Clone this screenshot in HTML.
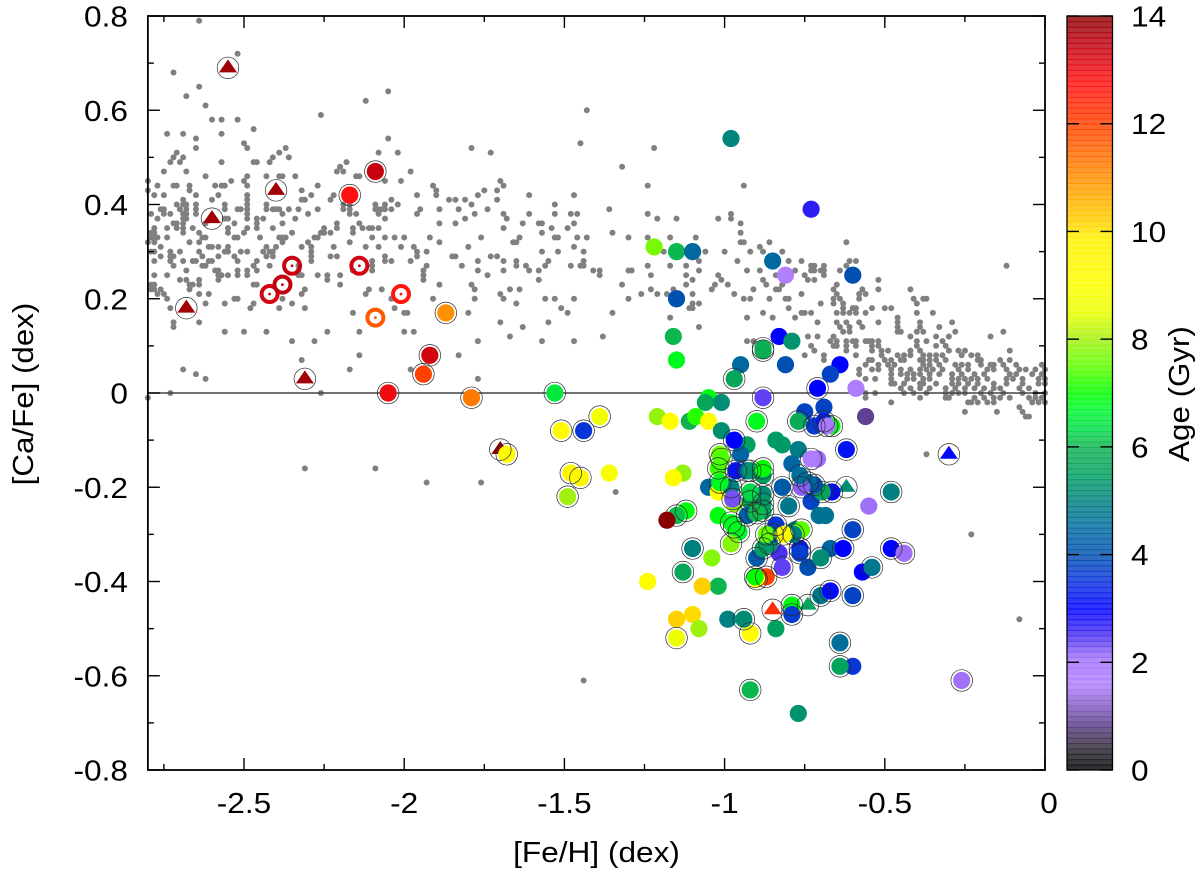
<!DOCTYPE html>
<html lang="en">
<head>
<meta charset="utf-8">
<title>[Ca/Fe] vs [Fe/H] coloured by age</title>
<style>
html,body{margin:0;padding:0;background:#fff;width:1200px;height:870px;overflow:hidden}
svg{display:block;font-family:"Liberation Sans",Arial,sans-serif}
text{fill:#000;font-size:29px}
</style>
</head>
<body>
<svg id="chart" xmlns="http://www.w3.org/2000/svg" width="1200" height="870" viewBox="0 0 1200 870">
  <rect width="1200" height="870" fill="#fff"/>
  <g id="field"></g>
  <g id="zero"></g>
  <g id="stars"></g>
  <g id="axes"></g>
  <g id="cbar"></g>
  <text text-anchor="middle" transform="translate(596.5,862) scale(1.09,1)">[Fe/H] (dex)</text>
  <text text-anchor="middle" transform="translate(33,394) rotate(-90) scale(1.08,1)">[Ca/Fe] (dex)</text>
  <text text-anchor="middle" transform="translate(1189,394) rotate(-90) scale(1.08,1)">Age (Gyr)</text>
</svg>
<script>
// ---------- Axis tick values ----------
const xMajorTicks = [-2.5, -2, -1.5, -1, -0.5, 0];
const xMinorTicks = [-2.75, -2.25, -1.75, -1.25, -0.75, -0.25];
const yMajorTicks = [0.8, 0.6, 0.4, 0.2, 0, -0.2, -0.4, -0.6, -0.8];
const yMinorTicks = [0.7, 0.5, 0.3, 0.1, -0.1, -0.3, -0.5, -0.7];
const xTickLabels = ["-2.5", "-2", "-1.5", "-1", "-0.5", "0"];
const yTickLabels = ["0.8", "0.6", "0.4", "0.2", "0", "-0.2", "-0.4", "-0.6", "-0.8"];
const ageTicks = [0, 2, 4, 6, 8, 10, 12, 14];
const ageTickLabels = ["0", "2", "4", "6", "8", "10", "12", "14"];

// ---------- Colour scale ----------
const ageKnots = [0, 0.4, 0.9, 1.6, 2.1, 2.5, 3, 3.5, 4, 4.5, 5, 5.5, 6, 6.3, 6.7, 7, 7.5, 8, 8.5, 9, 9.9, 10.2, 11, 12, 12.8, 13.5, 14];
const ageKnotColors = ["#000000", "#2a2530", "#604090", "#b080ff", "#a070f8", "#4a30f0", "#0000ff", "#0a30e0", "#0050b0", "#006aa0", "#008080", "#00a060", "#10b050", "#00d848", "#00f830", "#00ff00", "#60ff00", "#a0f010", "#e8ff00", "#ffff00", "#fff000", "#ffd000", "#ff9000", "#ff4000", "#ff1010", "#c00010", "#8b0000"];

// ---------- Field stars: [Ca/Fe] levels and the [Fe/H] values at each level ----------
const fieldLeftCaFe = [0.79,0.72,0.68,0.65,0.64,0.63,0.62,0.61,0.60,0.59,0.58,0.56,0.55,0.54,0.53,0.52,0.51,0.50,0.49,0.48,0.47,0.46,0.45,0.44,0.43,0.42,0.41,0.40,0.39,0.38,0.37,0.36,0.35,0.34,0.33,0.32,0.31,0.30,0.29,0.28,0.27,0.26,0.25,0.24,0.23,0.22,0.21,0.20,0.19,0.18,0.17,0.15,0.14,0.13,0.12,0.11,0.08,0.07,0.05,0.04,0.03,0,-0.01,-0.16,-0.19,-0.21,-0.61];
const fieldLeftFeH = [
[-2.64],[-2.52],[-2.72],[-2.64],[-2.05],[-2.68],[-2.12],[-2.62],[-1.43],[-2.26],
[-2.60,-2.57,-2.52],[-2.47],[-2.74,-2.69,-2.57],[-2.65,-2.05],[-2.50,-1.45],
[-2.65,-2.49,-2.37,-1.79],
[-2.71,-2.39,-2.08,-2.02,-1.73],
[-2.72,-2.69,-2.41,-2.36],
[-2.73,-2.70,-2.57,-2.47,-2.46,-2.42,-2.18],
[-2.20],
[-2.75,-2.68,-2.21,-2.19,-1.98],
[-2.62,-2.49,-2.43,-2.39,-2.38,-2.34,-2.15,-2.14],
[-2.80,-2.54,-2.50,-2.06,-2.01,-1.70],
[-2.77,-2.72,-2.71,-2.67,-2.59,-2.57,-2.56,-2.49,-2.27,-1.91,-1.69],
[-2.80,-2.67,-2.32,-1.90,-1.75,-1.71],
[-2.78,-2.75,-2.65,-2.58,-2.49,-2.29,-2.22,-1.96,-1.90,-1.77,-1.61,-1.47],
[-2.69,-2.60,-2.49,-2.32,-2.31,-2.23,-2.04,-1.86,-1.84,-1.81,-1.71],
[-2.71,-2.69,-2.68,-2.65,-2.56,-2.49,-2.43,-2.19,-2.17,-2.09,-2.06,-2.02,-1.79,-1.53],
[-2.76,-2.75,-2.70,-2.68,-2.65,-2.56,-2.52,-2.51,-2.49,-2.43,-2.41,-2.40,-2.39,-2.36,-2.33,-2.27,-2.19,-2.17,-2.09,-2.08,-2.07,-2.06,-2.04,-1.95,-1.89,-1.83,-1.74],
[-2.79,-2.75,-2.73,-2.69,-2.68,-2.65,-2.49,-2.38,-2.30,-2.17,-2.15,-2.08,-1.96,-1.78,-1.69,-1.61,-1.53,-1.48,-1.46],
[-2.77,-2.69,-2.68,-2.56,-2.55,-2.49,-2.46,-2.44,-2.34,-2.06,-1.81,-1.68],
[-2.72,-2.71,-2.69,-2.62,-2.53,-2.46,-2.38,-2.21,-2.14,-1.89,-1.84,-1.63,-1.58,-1.57,-1.47],
[-2.78,-2.74,-2.71,-2.69,-2.66,-2.55,-2.49,-2.46,-2.41,-2.25,-2.21,-2.16,-2.13,-2.11,-2.10,-2.08,-1.69,-1.54,-1.49],
[-2.79,-2.78,-2.69,-2.64,-2.55,-2.50,-2.35,-2.26,-2.25,-2.23,-2.16,-1.57],
[-2.79,-2.78,-2.77,-2.74,-2.63,-2.62,-2.53,-2.52,-2.45,-2.39,-2.38,-2.37,-2.28,-2.27,-2.10,-2.06,-2.03,-2.00,-1.92,-1.76,-1.64,-1.53,-1.52,-1.46,-1.43],
[-2.80,-2.78,-2.67,-2.64,-2.38,-2.30,-2.17,-1.89,-1.66,-1.65],
[-2.76,-2.61,-2.60,-2.58,-2.55,-2.43,-2.40,-2.32,-2.29,-2.22,-2.12,-2.08,-2.01,-1.97,-1.80,-1.47],
[-2.79,-2.78,-2.73,-2.70,-2.64,-2.56,-2.55,-2.51,-2.49,-2.44,-2.42,-2.41,-2.29,-1.96,-1.93,-1.57,-1.52,-1.44],
[-2.76,-2.73,-2.72,-2.63,-2.58,-2.53,-2.43,-2.41,-2.29,-2.23,-2.21,-2.06,-1.96,-1.85,-1.84,-1.73,-1.71],
[-2.78,-2.73,-2.69,-2.66,-2.65,-2.61,-2.60,-2.52,-2.46,-2.29,-2.10,-2.06,-2.04,-1.98,-1.77,-1.69,-1.65,-1.55,-1.44],
[-2.72,-2.63,-2.62,-2.47,-2.42,-2.33,-2.10,-1.93,-1.82,-1.65,-1.62,-1.56,-1.48,-1.45,-1.44],
[-2.68,-2.59,-2.58,-2.52,-2.49,-2.46,-2.33,-2.16,-2.10,-1.94,-1.77,-1.69,-1.61,-1.58],
[-2.78,-2.74,-2.58,-2.57,-2.55,-2.52,-2.49,-2.33,-2.32,-2.27,-2.24,-2.20,-1.94,-1.74],
[-2.70,-2.68,-2.58,-2.64,-2.24,-1.94,-1.58],
[-2.79,-2.78,-2.67,-2.66,-2.64,-2.47,-2.46,-2.20,-1.89,-1.79],
[-2.79,-2.78,-2.76,-2.67,-2.31,-2.11,-2.07,-1.78,-1.67,-1.64],
[-2.77,-2.75,-2.64,-2.61,-2.32,-2.12,-1.70],
[-2.74,-2.53,-2.52,-2.38,-2.04,-1.91,-1.78,-1.69,-1.56,-1.53,-1.47],
[-2.62,-2.56,-2.47,-2.35,-1.65],
[-2.73,-2.48,-2.39,-2.31,-2.03,-1.51],
[-2.16,-2.00,-1.99,-1.80,-1.49],
[-2.72,-2.64,-1.70,-1.55],
[-2.72,-1.63],
[-2.56,-2.50,-2.43,-2.24,-2.14,-2.00,-1.97],
[-1.67],
[-2.35,-2.28,-1.77,-1.57,-1.47],
[-2.14,-1.83],
[-2.32],
[-2.69,-2.17,-1.98],
[-2.65],
[-2.62,-1.77],
[-2.73,-2.26],
[-2.80],
[-2.31,-2.09],
[-1.93,-1.76],
[-1.34],
[-1.44]
];
const fieldRightCaFe = [0.52,0.48,0.44,0.39,0.38,0.37,0.36,0.34,0.33,0.32,0.31,0.30,0.28,0.27,0.26,0.25,0.24,0.23,0.22,0.21,0.20,0.19,0.18,0.17,0.16,0.15,0.14,0.13,0.12,0.11,0.10,0.09,0.08,0.07,0.06,0.05,0.04,0.03,0.02,0.01,0,-0.01,-0.02,-0.03,-0.04,-0.05,-0.13,-0.30,-0.48];
const fieldRightFeH = [
[-1.22],[-1.32],[-1.24,-0.94],[-1.36],[-1.24,-0.98],[-1.21,-1.15,-1.02,-0.98],[-0.95],[-1.35,-0.95],
[-1.30,-1.24,-1.17,-1.09],
[-0.95,-0.94,-0.86,-0.62],
[-0.89],
[-1.19,-1.06,-1.00,-0.92,-0.88,-0.82],
[-1.08,-0.96,-0.80,-0.76,-0.61,-0.59],
[-1.24,-1.17,-1.12,-0.73,-0.72,-0.69,-0.62,-0.12],
[-1.41,-1.39,-1.30,-1.29,-1.08,-0.93,-0.89,-0.78,-0.73,-0.72,-0.70,-0.69,-0.64],
[-1.39,-1.23,-1.12,-1.02,-0.84,-0.75,-0.69],
[-1.10,-1.01,-0.88,-0.74,-0.72,-0.52],
[-1.32,-1.12,-1.03,-0.99,-0.87,-0.82,-0.65],
[-1.23,-1.16,-1.04,-0.91,-0.84,-0.83,-0.66,-0.57,-0.52,-0.42],
[-1.26,-1.21,-1.18,-1.10,-0.97,-0.76,-0.65,-0.58,-0.56],
[-1.30,-0.94,-0.92,-0.86,-0.81,-0.80,-0.66,-0.64,-0.58,-0.41,-0.38,-0.37],
[-1.10,-1.08,-0.70,-0.66,-0.63,-0.40],
[-1.11,-1.10,-0.80,-0.63,-0.60,-0.59,-0.54,-0.50,-0.48],
[-1.35,-0.88,-0.76,-0.75,-0.73,-0.65,-0.63,-0.61,-0.59,-0.56,-0.40,-0.35],
[-1.17,-0.93,-0.85,-0.78,-0.46],
[-0.71,-0.65,-0.62,-0.58,-0.52,-0.46,-0.39,-0.29],
[-1.08,-0.64,-0.61,-0.57,-0.46,-0.39,-0.33],
[-0.63,-0.61,-0.46,-0.45,-0.40,-0.38,-0.28,-0.13],
[-1.38,-0.74,-0.71,-0.66,-0.42,-0.34,-0.30,-0.17],
[-0.93,-0.91,-0.67,-0.65,-0.62,-0.60,-0.59,-0.56,-0.55,-0.54,-0.52,-0.40,-0.37,-0.32],
[-0.73,-0.66,-0.65,-0.62,-0.59,-0.54,-0.52,-0.40,-0.34,-0.31],
[-0.72,-0.62,-0.54,-0.51,-0.49,-0.42,-0.39,-0.30,-0.27,-0.25,-0.11],
[-0.75,-0.69,-0.59,-0.51,-0.46,-0.44,-0.42,-0.38,-0.36,-0.34,-0.32,-0.26,-0.23,-0.21],
[-0.69,-0.55,-0.54,-0.50,-0.48,-0.45,-0.44,-0.39,-0.38,-0.36,-0.34,-0.31,-0.21,-0.20,-0.14,-0.11],
[-0.56,-0.52,-0.49,-0.47,-0.38,-0.36,-0.33,-0.28,-0.26,-0.24,-0.20,-0.17,-0.16,-0.13,-0.09,-0.01],
[-0.58,-0.54,-0.52,-0.48,-0.45,-0.42,-0.39,-0.37,-0.35,-0.32,-0.27,-0.24,-0.18,-0.16,-0.12,-0.08,-0.06,-0.03,0],
[-0.58,-0.48,-0.45,-0.43,-0.41,-0.39,-0.36,-0.33,-0.29,-0.26,-0.22,-0.19,-0.11,-0.09,-0.04,-0.01],
[-0.56,-0.53,-0.48,-0.43,-0.41,-0.38,-0.36,-0.29,-0.27,-0.25,-0.23,-0.21,-0.18,-0.12,-0.10,-0.07,-0.02,0],
[-0.48,-0.47,-0.44,-0.39,-0.38,-0.34,-0.29,-0.27,-0.24,-0.21,-0.16,-0.12,-0.07,-0.02,0],
[-0.45,-0.42,-0.39,-0.36,-0.31,-0.28,-0.25,-0.22,-0.19,-0.16,-0.14,-0.08,-0.05],
[-0.56,-0.53,-0.44,-0.41,-0.37,-0.31,-0.29,-0.27,-0.25,-0.20,-0.17,-0.13,-0.07,-0.03,0],
[-0.56,-0.39,-0.31,-0.30,-0.22,-0.19,-0.16,-0.14,-0.11,-0.05,-0.03,-0.01],
[-0.48,-0.24,-0.23,-0.21,-0.18,-0.16,-0.04,-0.02,0],
[-0.08],
[-0.25,-0.15,-0.07],
[-0.06,-0.05],
[-0.37],
[-0.23],
[-0.08]
];

// ---------- Plain filled discs ----------
const discFeH = [-1.36,-1.21,-1.17,-1.11,-1.09,-1.13,-1.16,-1.24,-1.15,-1.10,-1.08,-0.98,-0.73,-1.22,-1.15,-1.10,-0.85,-0.81,-0.60,-1.15,-1.16,-1.15,-0.83,-0.79,-0.95,-0.81,-0.64,-0.67,-0.59,-1.05,-1.06,-1.01,-0.56,-1.05,-1.01,-0.93,-0.75,-0.69,-0.84,-0.82,-0.77,-0.79,-0.71,-0.55,-0.73,-0.705,-0.685,-0.67,-0.57,-0.74,-0.83,-1.02,-1.04,-1.02,-1.07,-0.95,-0.99,-0.84,-0.60,-0.77,-1.05,-0.78,-1.02,-0.97];
const discCaFe = [-0.17,-0.05,-0.06,-0.06,-0.05,-0.17,-0.18,-0.40,-0.48,-0.47,-0.50,0.54,0.39,0.31,0.30,0.30,0.28,0.25,0.25,0.20,0.12,0.07,0.12,0.11,0.06,0.06,0.06,0.04,0.01,-0.01,-0.02,-0.02,-0.05,-0.06,-0.08,-0.11,-0.04,-0.03,-0.10,-0.11,-0.12,-0.15,-0.14,-0.24,-0.23,-0.26,-0.26,-0.33,-0.38,-0.37,-0.34,-0.26,-0.35,-0.41,-0.41,-0.13,-0.48,-0.50,-0.58,-0.68,-0.20,-0.29,-0.21,-0.235];
const discAge = [8.9,7.9,9.2,6,7.2,7.9,9.2,9.2,10.2,10.1,8,5.1,2.7,7.7,6.05,4.5,4.5,1.6,4,4,6.05,6.8,3,5.3,4.5,4,3,3.8,1.7,6.9,5.7,5.2,0.9,9.2,5.2,5.5,3.8,3.8,5.4,5.4,4.9,4.4,2.1,2.1,3.8,4.7,4.7,4.4,3,4,2.5,6.9,7.8,6.05,10.2,4.4,5,5.5,3.6,5.3,4.5,5.2,9,7.9];

// ---------- Discs with an outer thin ring ----------
const ringedFeH = [-2.09,-2.17,-1.92,-1.94,-2.05,-1.87,-1.79,-1.53,-1.39,-1.51,-1.44,-1.68,-1.48,-1.45,-1.49,-1.12,-1.15,-1.10,-1.13,-1.15,-0.88,-0.88,-0.97,-0.71,-0.88,-0.90,-0.97,-0.77,-0.72,-0.69,-0.665,-0.68,-0.62,-0.73,-0.48,-0.665,-0.695,-0.72,-0.74,-0.76,-0.765,-0.82,-0.80,-0.60,-0.63,-0.70,-0.48,-0.44,-0.54,-0.82,-0.765,-0.76,-0.90,-0.88,-0.84,-0.785,-0.765,-0.87,-0.90,-0.905,-0.92,-0.94,-0.79,-0.79,-0.70,-0.67,-0.60,-0.64,-0.64,-0.26,-0.92,-0.965,-0.93,-0.92,-0.88,-0.88,-0.92,-0.88,-0.88,-0.93,-0.90,-0.88,-0.98,-1.015,-1.02,-1.015,-0.98,-0.92,-0.975,-0.955,-0.97,-0.98,-1.01,-0.86,-0.85,-0.87,-0.815];
const ringedCaFe = [0.47,0.42,0.08,0.04,0,0.17,-0.01,0,-0.05,-0.08,-0.08,-0.13,-0.17,-0.18,-0.22,-0.25,-0.26,-0.33,-0.38,-0.52,0.09,0.095,0.03,0.01,-0.01,-0.06,-0.10,-0.06,-0.07,-0.06,-0.07,-0.07,-0.12,-0.14,-0.21,-0.21,-0.21,-0.195,-0.19,-0.20,-0.175,-0.20,-0.24,-0.29,-0.33,-0.35,-0.33,-0.34,-0.37,-0.37,-0.33,-0.29,-0.35,-0.33,-0.28,-0.30,-0.34,-0.39,-0.395,-0.39,-0.51,-0.48,-0.45,-0.47,-0.43,-0.42,-0.43,-0.53,-0.58,-0.61,-0.63,-0.165,-0.165,-0.165,-0.175,-0.215,-0.23,-0.235,-0.25,-0.26,-0.255,-0.16,-0.20,-0.13,-0.16,-0.19,-0.275,-0.21,-0.225,-0.295,-0.285,-0.32,-0.14,-0.32,-0.30,-0.30,-0.30];
const ringedAge = [13.4,12.8,13.3,12,13,11,11.3,6.5,8.7,9.3,3.6,9.2,9.5,9.5,8,6.9,6.1,5,5.7,8.6,5.8,5.9,5.7,3,2.4,6.8,3,5.8,3.7,3.3,7,1.8,3.2,1.7,5,3.1,5.7,4,4.5,2.2,4.6,4.2,4.8,3.8,3,5.2,3,2.1,4.8,2.4,3.2,7.5,4.2,5.6,3.6,5,3.7,12,9,7,9.2,5.2,6.9,3.7,4.8,3.1,3.8,4.6,5.6,2.1,6.05,3.2,4.2,5.3,5.5,5.2,5.7,5.4,5.5,4.3,6.1,7,5,7.6,7.3,6.8,6.8,6.3,2.3,6.7,6.8,7.8,7.4,5.4,4.2,7.5,9];

// ---------- Ringed triangles ----------
const triFeH = [-2.55,-2.40,-2.60,-2.68,-2.31,-1.70,-0.62,-0.85,-0.74,-0.30];
const triCaFe = [0.69,0.43,0.37,0.18,0.03,-0.12,-0.20,-0.46,-0.45,-0.13];
const triAge = [13.8,13.8,13.8,13.8,13.8,14,5.2,12.3,5.6,3.1];

// ---------- Open donut markers with a centre dot ----------
const donutFeH = [-2.42,-2.38,-2.35,-2.14,-2.01,-2.09];
const donutCaFe = [0.21,0.23,0.27,0.27,0.21,0.16];
const donutAge = [13.3,13.5,13.4,13.3,12.7,11.7];

// ---------- Plain discs drawn above every ring ----------
const topFeH = [-1.18];
const topCaFe = [-0.27];
const topAge = [14];

// ---------- Scales ----------
function X(v){ return 1045 + v * 320.4; }
function Y(v){ return 393 - v * 471.25; }
function AGEY(v){ return 770 - v * 53.857; }

function hexToRgb(h){
  return [parseInt(h.slice(1,3),16), parseInt(h.slice(3,5),16), parseInt(h.slice(5,7),16)];
}
function ageColor(a){
  if (a <= ageKnots[0]) return ageKnotColors[0];
  for (let i = 1; i < ageKnots.length; i++) {
    if (a <= ageKnots[i]) {
      const t = (a - ageKnots[i-1]) / (ageKnots[i] - ageKnots[i-1]);
      const p = hexToRgb(ageKnotColors[i-1]);
      const q = hexToRgb(ageKnotColors[i]);
      return 'rgb(' + Math.round(p[0]+(q[0]-p[0])*t) + ',' + Math.round(p[1]+(q[1]-p[1])*t) + ',' + Math.round(p[2]+(q[2]-p[2])*t) + ')';
    }
  }
  return ageKnotColors[ageKnotColors.length-1];
}

const NS = 'http://www.w3.org/2000/svg';
function make(tag, parent){
  const el = document.createElementNS(NS, tag);
  parent.appendChild(el);
  return el;
}
const fieldG = document.getElementById('field');
const zeroG = document.getElementById('zero');
const starsG = document.getElementById('stars');
const axesG = document.getElementById('axes');
const cbarG = document.getElementById('cbar');

// ---------- Field stars ----------
function drawField(levels, rows){
  levels.forEach(function(level, i){
    (rows[i] || []).forEach(function(feh){
      const c = make('circle', fieldG);
      
      
      c.setAttribute('cx', X(feh));
      c.setAttribute('cy', Y(level));
      c.setAttribute('r', 3);
      c.setAttribute('fill', '#808080');
    });
  });
}
drawField(fieldLeftCaFe, fieldLeftFeH);
drawField(fieldRightCaFe, fieldRightFeH);

// ---------- Zero line ----------
const zeroLine = make('line', zeroG);


zeroLine.setAttribute('x1', X(-2.8));
zeroLine.setAttribute('x2', X(0));
zeroLine.setAttribute('y1', Y(0));
zeroLine.setAttribute('y2', Y(0));
zeroLine.setAttribute('stroke', '#444');
zeroLine.setAttribute('stroke-width', 1.4);

// ---------- Markers ----------
function drawTriangle(feh, ca, age){
  const x = X(feh), y = Y(ca);
  const t = make('polygon', starsG);
  
  
  t.setAttribute('points', (x-9)+','+(y+4.5)+' '+x+','+(y-8.5)+' '+(x+9)+','+(y+4.5));
  t.setAttribute('fill', ageColor(age));
}
function drawDisc(feh, ca, age, name){
  const c = make('circle', starsG);
  
  
  c.setAttribute('cx', X(feh));
  c.setAttribute('cy', Y(ca));
  c.setAttribute('r', 8.6);
  c.setAttribute('fill', ageColor(age));
}
function drawRing(feh, ca){
  const c = make('circle', starsG);
  
  
  c.setAttribute('cx', X(feh));
  c.setAttribute('cy', Y(ca));
  c.setAttribute('r', 10.8);
  c.setAttribute('fill', 'none');
  c.setAttribute('stroke', '#2a2a2a');
  c.setAttribute('stroke-width', 0.7);
}
function drawDonut(feh, ca, age){
  const col = ageColor(age);
  const o = make('circle', starsG);
  
  
  o.setAttribute('cx', X(feh));
  o.setAttribute('cy', Y(ca));
  o.setAttribute('r', 8);
  o.setAttribute('fill', 'none');
  o.setAttribute('stroke', col);
  o.setAttribute('stroke-width', 4);
  const d = make('circle', starsG);
  
  
  d.setAttribute('cx', X(feh));
  d.setAttribute('cy', Y(ca));
  d.setAttribute('r', 1.4);
  d.setAttribute('fill', col);
}
triFeH.forEach(function(v,i){ drawTriangle(v, triCaFe[i], triAge[i]); });
discFeH.forEach(function(v,i){ drawDisc(v, discCaFe[i], discAge[i], 'plain-star'); });
ringedFeH.forEach(function(v,i){ drawDisc(v, ringedCaFe[i], ringedAge[i], 'ringed-star'); });
ringedFeH.forEach(function(v,i){ drawRing(v, ringedCaFe[i]); });
triFeH.forEach(function(v,i){ drawRing(v, triCaFe[i]); });
donutFeH.forEach(function(v,i){ drawDonut(v, donutCaFe[i], donutAge[i]); });
topFeH.forEach(function(v,i){ drawDisc(v, topCaFe[i], topAge[i], 'plain-star'); });

// ---------- Axes ----------
function tick(parent, x1, y1, x2, y2, name){
  const l = make('line', parent);
  
  
  l.setAttribute('x1', x1);
  l.setAttribute('y1', y1);
  l.setAttribute('x2', x2);
  l.setAttribute('y2', y2);
  l.setAttribute('stroke', '#000');
  l.setAttribute('stroke-width', 1.4);
}
function label(parent, str, x, y, anchor, name){
  const t = make('text', parent);
  
  
  t.setAttribute('text-anchor', anchor);
  t.setAttribute('transform', 'translate(' + x + ',' + y + ') scale(1.09,1)');
  t.textContent = str;
}
const frame = make('rect', axesG);


frame.setAttribute('x', X(-2.8));
frame.setAttribute('y', Y(0.8));
frame.setAttribute('width', X(0) - X(-2.8));
frame.setAttribute('height', Y(-0.8) - Y(0.8));
frame.setAttribute('fill', 'none');
frame.setAttribute('stroke', '#000');
frame.setAttribute('stroke-width', 1.8);

xMajorTicks.forEach(function(v,i){
  tick(axesG, X(v), 770, X(v), 758, 'x-major-tick');
  tick(axesG, X(v), 16, X(v), 28, 'x-major-tick');
  label(axesG, xTickLabels[i], X(v) + (v === 0 ? 4 : 0), 813, 'middle', 'x-tick-label');
});
xMinorTicks.forEach(function(v){
  tick(axesG, X(v), 770, X(v), 764, 'x-minor-tick');
  tick(axesG, X(v), 16, X(v), 22, 'x-minor-tick');
});
yMajorTicks.forEach(function(v,i){
  tick(axesG, X(-2.8), Y(v), X(-2.8)+12, Y(v), 'y-major-tick');
  tick(axesG, X(0), Y(v), X(0)-12, Y(v), 'y-major-tick');
  label(axesG, yTickLabels[i], 128, Y(v) + 10.5, 'end', 'y-tick-label');
});
yMinorTicks.forEach(function(v){
  tick(axesG, X(-2.8), Y(v), X(-2.8)+6, Y(v), 'y-minor-tick');
  tick(axesG, X(0), Y(v), X(0)-6, Y(v), 'y-minor-tick');
});

// ---------- Colour bar ----------
const CBL = 1067, CBR = 1112.5;
for (let k = 0; k < 140; k++) {
  const a = k / 10;
  const r = make('rect', cbarG);
  
  
  r.setAttribute('x', CBL);
  r.setAttribute('y', AGEY(a + 0.1));
  r.setAttribute('width', CBR - CBL);
  r.setAttribute('height', k === 0 ? 5.4 : 6.4);
  r.setAttribute('fill', ageColor(a + 0.05));
  r.setAttribute('fill-opacity', 0.82);
}
const cbFrame = make('rect', cbarG);


cbFrame.setAttribute('x', CBL);
cbFrame.setAttribute('y', AGEY(14));
cbFrame.setAttribute('width', CBR - CBL);
cbFrame.setAttribute('height', AGEY(0) - AGEY(14));
cbFrame.setAttribute('fill', 'none');
cbFrame.setAttribute('stroke', '#000');
cbFrame.setAttribute('stroke-width', 1.3);
ageTicks.forEach(function(v,i){
  tick(cbarG, CBL, AGEY(v), CBL + 12, AGEY(v), 'colorbar-tick');
  tick(cbarG, CBR, AGEY(v), CBR - 12, AGEY(v), 'colorbar-tick');
  label(cbarG, ageTickLabels[i], 1131, AGEY(v) + 10.5, 'start', 'colorbar-tick-label');
});
</script>
</body>
</html>
